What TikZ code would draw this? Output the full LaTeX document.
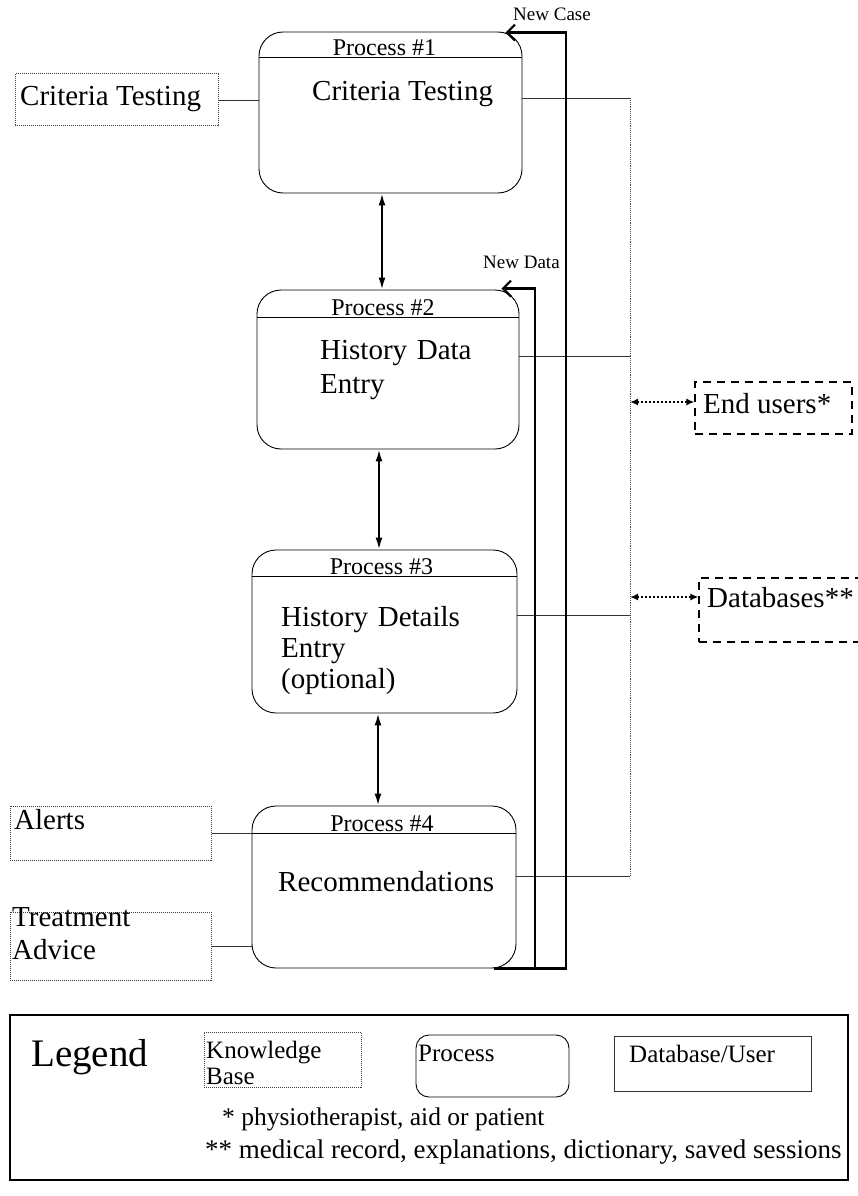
\documentclass[tikz,border=0pt]{standalone}
\usepackage{fontspec}
\setmainfont{Liberation Serif}
\usetikzlibrary{arrows.meta,calc}
\begin{document}
\begin{tikzpicture}[x=1pt,y=-1pt,
 proc/.style={draw, line width=0.9pt, rounded corners=24pt, inner sep=0pt},
 kb/.style={draw=black!75, densely dotted, line width=1pt, inner sep=0pt},
 ext/.style={draw, dash pattern=on 8pt off 6pt, line width=1.1pt, inner sep=0pt},
 link/.style={line width=0.8pt, black!80},
 bus/.style={line width=0.9pt, black!70, densely dotted},
 pp/.style={line width=1.9pt, {Latex[length=12pt,width=7pt]}-{Latex[length=12pt,width=7pt]}},
 flow/.style={line width=2.2pt, -{Straight Barb[length=8pt,width=16pt]}},
 dd/.style={line width=2pt, dotted, {Latex[length=8pt,width=7pt]}-{Latex[length=8pt,width=7pt]}},
 ttl/.style={font=\fontsize{24}{28}\selectfont, inner sep=0pt, anchor=base},
 big/.style={font=\fontsize{29}{33}\selectfont, inner sep=0pt, anchor=base west},
 lbl/.style={font=\fontsize{19}{22}\selectfont, inner sep=0pt, anchor=base west},
 leg/.style={font=\fontsize{25}{26}\selectfont, inner sep=0pt, anchor=base west},
]
\useasboundingbox (0,0) rectangle (858,1196);
\fill[white] (0,0) rectangle (858,1196);

% processes
\node[proc, minimum width=263pt, minimum height=161pt] (P1) at (390.5,112.5) {};
\node[proc, minimum width=262pt, minimum height=159pt] (P2) at (388,369.5) {};
\node[proc, minimum width=265pt, minimum height=163pt] (P3) at (384.5,631.5) {};
\node[proc, minimum width=264pt, minimum height=162pt] (P4) at (384,887) {};

\draw[line width=0.9pt] ($(P1.north west)+(0,26)$) -- ($(P1.north east)+(0,26)$);
\draw[line width=0.9pt] ($(P2.north west)+(0,28)$) -- ($(P2.north east)+(0,28)$);
\draw[line width=0.9pt] ($(P3.north west)+(0,27)$) -- ($(P3.north east)+(0,27)$);
\draw[line width=0.9pt] ($(P4.north west)+(0,28)$) -- ($(P4.north east)+(0,28)$);

\node[ttl] (t1) at ($(P1.north)+(-6,24)$) {Process \#1};
\node[ttl] (t2) at ($(P2.north)+(-5,26)$) {Process \#2};
\node[ttl] (t3) at ($(P3.north)+(-3,25)$) {Process \#3};
\node[ttl] (t4) at ($(P4.north)+(-2,26)$) {Process \#4};

\node[big] (m1) at (312,101) {Criteria Testing};
\node[big, text width=200pt, align=left, font=\fontsize{29}{34}\selectfont] (m2) at (320,359) {History Data\\Entry};
\node[big, text width=220pt, align=left, font=\fontsize{29}{31}\selectfont] (m3) at (281,626) {History Details\\Entry\\(optional)};
\node[big] (m4) at (278,891) {Recommendations};

% knowledge bases
\node[kb, minimum width=203pt, minimum height=52pt] (K1) at (116.5,100) {};
\node[big] (k1) at (20,106) {Criteria Testing};
\node[kb, minimum width=201pt, minimum height=54pt] (K2) at (110.5,833) {};
\node[big] (k2) at (14,829) {Alerts};
\node[kb, minimum width=201pt, minimum height=68pt] (K3) at (110.5,946) {};
\node[big, text width=190pt, align=left, font=\fontsize{29}{33}\selectfont] (k3) at (12,926) {Treatment\\Advice};

\draw[link] (K1.east) -- (K1.east -| P1.west);
\draw[link] (K2.east) -- (K2.east -| P4.west);
\draw[link] (K3.east) -- (K3.east -| P4.west);

% process arrows
\coordinate (x1) at (382,0);
\coordinate (x2) at (379,0);
\coordinate (x3) at (378,0);
\draw[pp] (P1.south -| x1) -- (P2.north -| x1);
\draw[pp] (P2.south -| x2) -- (P3.north -| x2);
\draw[pp] (P3.south -| x3) -- (P4.north -| x3);

% bus
\coordinate (b1) at (630,98);
\coordinate (b2) at (630,356);
\coordinate (b3) at (630,615);
\coordinate (b4) at (630,876);
\draw[bus] (b1) -- (b4);
\draw[link] (P1.east |- b1) -- (b1);
\draw[link] (P2.east |- b2) -- (b2);
\draw[link] (P3.east |- b3) -- (b3);
\draw[link] (P4.east |- b4) -- (b4);

% external entities
\node[ext, minimum width=157pt, minimum height=52pt] (EU) at (773.5,408) {};
\node[big] (eu) at (703,413) {End users*};
\node[ext, minimum width=176pt, minimum height=64pt] (DB) at (787,610) {};
\node[big] (db) at (707,607) {Databases**};
\coordinate (bu) at (630,402);
\coordinate (bd) at (630,597);
\draw[dd] (bu) -- (EU.west |- bu);
\draw[dd] (bd) -- (DB.west |- bd);

% feedback flows
\coordinate (ncx) at (566,0);
\coordinate (ndx) at (535,0);
\coordinate (nc0) at ($(P4.south east)+(-22,0)$);
\coordinate (nct) at ($(P1.north east)+(-17,1)$);
\coordinate (ndt) at ($(P2.north east)+(-18,-1)$);
\draw[flow] (nc0) -- (ncx |- nc0) -- (ncx |- nct) -- (nct);
\draw[flow] (ndx |- nc0) -- (ndx |- ndt) -- (ndt);
\node[lbl] (lnc) at (513,21) {New Case};
\node[lbl] (lnd) at (483,268) {New Data};

% legend
\node[draw, line width=1.2pt, minimum width=838pt, minimum height=165pt, inner sep=0pt] (LG) at (429,1097.5) {};
\node[inner sep=0pt, anchor=base west, font=\fontsize{39}{44}\selectfont] (lt) at (31,1066) {Legend};
\node[kb, minimum width=157pt, minimum height=55pt] (LK) at (282.5,1059.5) {};
\node[leg, text width=150pt, align=left] (lk) at (206,1058) {Knowledge\\Base};
\node[proc, rounded corners=13pt, minimum width=153pt, minimum height=62pt] (LP) at (492.5,1066) {};
\node[leg] (lp) at (418,1061) {Process};
\node[draw=black!80, line width=0.9pt, minimum width=197pt, minimum height=55pt, inner sep=0pt] (LD) at (713,1063.5) {};
\node[leg] (ld) at (629,1062) {Database/User};
\node[inner sep=0pt, anchor=base west, font=\fontsize{25.5}{30}\selectfont] (f1) at (222,1125) {* physiotherapist, aid or patient};
\node[inner sep=0pt, anchor=base west, font=\fontsize{27}{30}\selectfont] (f2) at (205,1158) {** medical record, explanations, dictionary, saved sessions};
\end{tikzpicture}
\end{document}
